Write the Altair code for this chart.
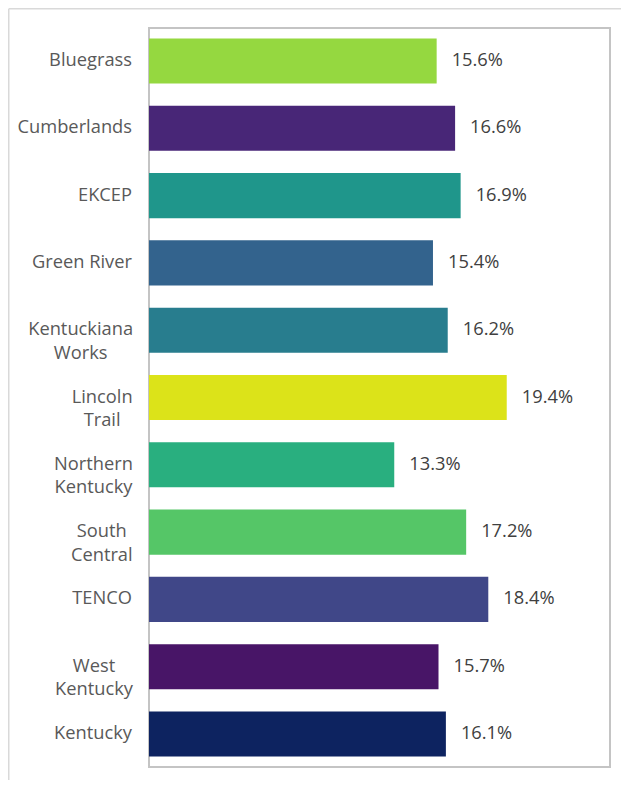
import altair as alt
import pandas as pd

# ---- data ----
regions = ["Bluegrass", "Cumberlands", "EKCEP", "Green River",
           "Kentuckiana Works", "Lincoln Trail", "Northern Kentucky",
           "South Central", "TENCO", "West Kentucky", "Kentucky"]
label_lines = [["Bluegrass"], ["Cumberlands"], ["EKCEP"], ["Green River"],
               ["Kentuckiana", "Works"], ["Lincoln", "Trail"],
               ["Northern", "Kentucky"], ["South", "Central"], ["TENCO"],
               ["West", "Kentucky"], ["Kentucky"]]
values = [15.6, 16.6, 16.9, 15.4, 16.2, 19.4, 13.3, 17.2, 18.4, 15.7, 16.1]
colors = ["#95d840", "#482677", "#1f968b", "#33638d", "#287d8e", "#dce319",
          "#29af7f", "#55c667", "#404788", "#481567", "#0d2360"]

FONT = "Open Sans"
FS = 18.3
LABEL_PAD = 17

# approximate glyph advance widths (em), used only to find the centre of a
# right-aligned two-line label block whose lines are centred on each other
W = {"K": .61, "e": .56, "n": .61, "t": .35, "u": .61, "c": .48, "k": .53,
     "i": .26, "a": .56, "W": .91, "o": .60, "r": .41, "s": .48, "L": .52,
     "l": .26, "T": .55, "N": .75, "h": .61, "S": .55, "C": .63, "y": .50}
PX_PER_EM = 17.6 * FS / 18


def text_width(s):
    return sum(W.get(ch, .58) for ch in s) * PX_PER_EM


df = pd.DataFrame({"region": regions, "value": values,
                   "lines": label_lines,
                   "n": [len(l) for l in label_lines]})

y = alt.Y("region:N", sort=regions, title=None, axis=None,
          scale=alt.Scale(paddingInner=0.33, paddingOuter=0.155))
x = alt.X("value:Q", title=None, axis=None,
          scale=alt.Scale(domain=[0, 25], nice=False, zero=True))

base = alt.Chart(df)
bars = base.mark_bar().encode(
    x=x, y=y,
    color=alt.Color("region:N", scale=alt.Scale(domain=regions, range=colors),
                    legend=None),
)
values_txt = base.mark_text(align="left", baseline="middle", dx=15,
                            font=FONT, fontSize=FS, color="#404040").encode(
    x=x, y=y,
    text=alt.Text("txt:N"),
).transform_calculate(txt="format(datum.value, '.1f') + '%'")

single = base.transform_filter("datum.n == 1").mark_text(
    align="right", baseline="middle", font=FONT, fontSize=FS,
    color="#595959").encode(x=alt.value(-LABEL_PAD), y=y,
                            text=alt.Text("region:N"))

layers = [bars, values_txt, single]
for reg, lines in zip(regions, label_lines):
    if len(lines) < 2:
        continue
    half = max(text_width(l) for l in lines) / 2
    layers.append(
        base.transform_filter(alt.datum.region == reg).mark_text(
            align="center", baseline="middle", font=FONT, fontSize=FS,
            lineHeight=23.5, color="#595959").encode(
            x=alt.value(-LABEL_PAD - half), y=y,
            text=alt.Text("lines:N"))
    )

frame_data = alt.Data(values=[{"f": 1}])
layers.append(alt.Chart(frame_data).mark_rule(color="#d9d9d9", strokeWidth=1.5).encode(
    x=alt.value(-140.25), y=alt.value(-19.25), y2=alt.value(760)))
layers.append(alt.Chart(frame_data).mark_rule(color="#d9d9d9", strokeWidth=1.5).encode(
    x=alt.value(-140.25), x2=alt.value(480), y=alt.value(-19.25)))

chart = alt.layer(*layers).properties(
    width=461, height=739,
    autosize=alt.AutoSizeParams(type="none"),
    padding={"left": 141, "top": 20, "right": 11, "bottom": 13},
).configure_view(stroke="#c4c4c4", strokeWidth=2)

chart.save("out.html", embed_options={"renderer": "svg", "actions": False})
